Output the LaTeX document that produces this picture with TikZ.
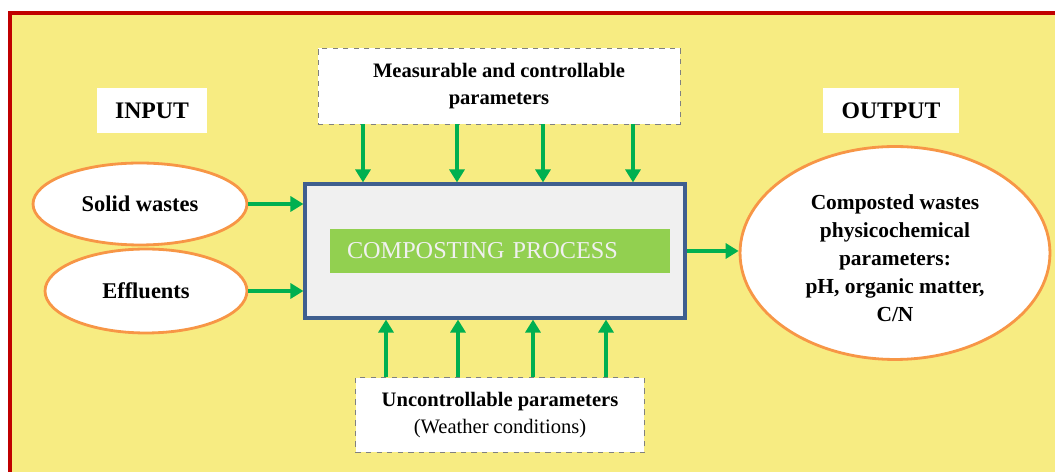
\documentclass[tikz,border=0pt]{standalone}
\usepackage{fontspec}
\setmainfont{Liberation Serif}
\usepackage{xcolor}
\usepackage{tikz}
\usetikzlibrary{shapes.geometric, arrows.meta, positioning, calc}

\definecolor{bgyellow}{HTML}{F7EC82}
\definecolor{framered}{HTML}{C00000}
\definecolor{procblue}{HTML}{3F5F8F}
\definecolor{procgray}{HTML}{F0F0F0}
\definecolor{arrgreen}{HTML}{00B050}
\definecolor{bargreen}{HTML}{92D050}
\definecolor{ellorange}{HTML}{F79646}

\begin{document}
\begin{tikzpicture}[
        x=0.02cm, y=-0.02cm,
        % Global Styles
        label/.style={rectangle, fill=white, font=\fontsize{13.5}{15}\selectfont\bfseries, minimum height=0.9cm},
        param/.style={rectangle, draw=gray, dashed, thin, fill=white, align=center, font=\fontsize{11.7}{15}\selectfont},
        waste/.style={ellipse, draw=ellorange, line width=1.6pt, fill=white, align=center, inner sep=0pt, font=\fontsize{12.8}{15}\selectfont\bfseries},
        process/.style={rectangle, draw=procblue, line width=1.8pt, fill=procgray},
        arrow/.style={arrgreen, line width=2.3pt, -{Triangle[length=0.26cm, width=0.3cm]}}
    ]

    % --- Frame ---
    \useasboundingbox (0,0) rectangle (1055,472);
    \draw[framered, line width=2.3pt, fill=bgyellow] (10,13) rectangle (1080,500);

    % --- Headings ---
    \node (In)  [label, minimum width=2.2cm]  at (152,111) {INPUT};
    \node (Out) [label, minimum width=2.74cm] at (891,111) {OUTPUT};

    % --- Parameters ---
    \node (Meas) [param, minimum width=7.24cm, minimum height=1.52cm] at (499,86)
        {\bfseries Measurable and controllable\\ \bfseries parameters};
    \node (Uncon) [param, minimum width=5.78cm, minimum height=1.5cm] at (500,415)
        {\bfseries Uncontrollable parameters\\ (Weather conditions)};

    % --- Process ---
    \node (Proc) [process, minimum width=7.6cm, minimum height=2.68cm] at (495,251) {};
    \node (Bar) [fill=bargreen, minimum width=6.8cm, minimum height=0.88cm, text width=6.12cm,
        inner xsep=0.34cm, align=left, text=procgray, font=\fontsize{13.8}{15}\selectfont] at (500,251)
        {COMPOSTING PROCESS};

    % --- Inputs and output ---
    \node (Solid) [waste, minimum width=4.28cm, minimum height=1.64cm] at (140,204) {Solid wastes};
    \node (Eff)   [waste, minimum width=4.04cm, minimum height=1.68cm] at (146,291) {Effluents};
    \node (Comp)  [waste, minimum width=6.2cm, minimum height=4.26cm] at (895,253) {};
    \node (CompText) [align=center, font=\fontsize{12.2}{16}\selectfont\bfseries] at (895,258)
        {Composted wastes\\ physicochemical\\ parameters:\\ pH, organic matter,\\ C/N};

    % --- Connections ---
    \draw [arrow] (Solid.east) -- (Proc.west |- Solid.east);
    \draw [arrow] (Eff.east) -- (Proc.west |- Eff.east);
    \draw [arrow] (Proc.east) -- (Comp.west |- Proc.east);

    \foreach \x in {363,457,543,633}
        \draw [arrow] (Meas.south -| \x,0) -- (Proc.north -| \x,0);
    \foreach \x in {386,458,533,606}
        \draw [arrow] (Uncon.north -| \x,0) -- (Proc.south -| \x,0);

\end{tikzpicture}
\end{document}
